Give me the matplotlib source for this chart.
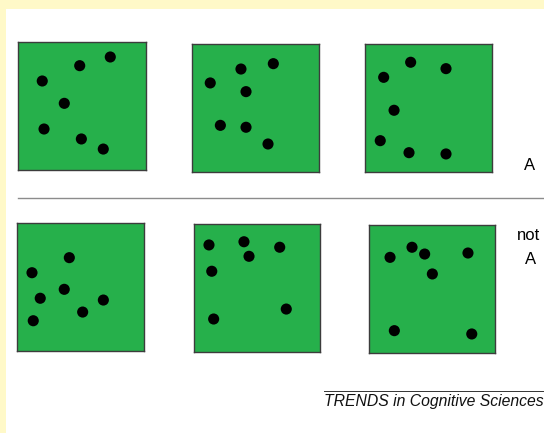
import matplotlib
matplotlib.use("Agg")
import matplotlib.pyplot as plt
from matplotlib.patches import Rectangle
from matplotlib.lines import Line2D

plt.rcParams['font.family'] = ['Liberation Sans', 'DejaVu Sans']

# dot positions inside each square, fraction of width (x) and of height from the top (y)
a1_x = [0.722, 0.482, 0.188, 0.361, 0.202, 0.495, 0.667]
a1_y = [0.115, 0.183, 0.303, 0.478, 0.679, 0.757, 0.836]
a2_x = [0.641, 0.385, 0.142, 0.425, 0.222, 0.425, 0.599]
a2_y = [0.154, 0.196, 0.305, 0.373, 0.637, 0.652, 0.783]
a3_x = [0.358, 0.637, 0.145, 0.227, 0.118, 0.345, 0.637]
a3_y = [0.143, 0.193, 0.261, 0.519, 0.757, 0.851, 0.861]

n1_x = [0.412, 0.118, 0.372, 0.183, 0.680, 0.517, 0.128]
n1_y = [0.269, 0.387, 0.517, 0.587, 0.601, 0.695, 0.763]
n2_x = [0.121, 0.398, 0.438, 0.681, 0.143, 0.733, 0.158]
n2_y = [0.164, 0.139, 0.253, 0.182, 0.370, 0.666, 0.744]
n3_x = [0.169, 0.343, 0.443, 0.786, 0.504, 0.203, 0.816]
n3_y = [0.251, 0.172, 0.225, 0.217, 0.381, 0.825, 0.851]

row_labels = ["A", "not", "A"]
credit = "TRENDS in Cognitive Sciences"

W, H = 544, 433
fig = plt.figure(figsize=(W / 100, H / 100), dpi=100, facecolor="#FFF9C8")


def px_box(x0, y0, x1, y1):
    # pixel box (top-left origin) -> figure fraction rect
    return [x0 / W, 1 - y1 / H, (x1 - x0) / W, (y1 - y0) / H]


fig.patches.append(Rectangle((6 / W, 0), 1 - 6 / W, 1 - 9 / H, transform=fig.transFigure,
                             facecolor="white", edgecolor="none", zorder=-10))

boxes = [
    (18.3, 42.3, 145.7, 170.0), (192.3, 44.0, 318.7, 171.7), (365.3, 44.0, 492.0, 171.7),
    (17.0, 223.3, 144.0, 351.0), (193.7, 224.0, 320.0, 351.7), (368.7, 225.3, 495.0, 353.0),
]
dots = [(a1_x, a1_y), (a2_x, a2_y), (a3_x, a3_y), (n1_x, n1_y), (n2_x, n2_y), (n3_x, n3_y)]

for box, (xs, ys) in zip(boxes, dots):
    ax = fig.add_axes(px_box(*box))
    ax.set_facecolor("#26B04B")
    ax.set_xlim(0, 1)
    ax.set_ylim(1, 0)
    ax.set_xticks([])
    ax.set_yticks([])
    for sp in ax.spines.values():
        sp.set_color("#3c3c3c")
        sp.set_linewidth(1.0)
    ax.scatter(xs, ys, s=64, color="black", edgecolors="none")

# separator line between rows
fig.add_artist(Line2D([18 / W, 1], [1 - 198.3 / H] * 2, transform=fig.transFigure,
                      color="#8c8c8c", lw=1.0))

fig.text(530 / W, 1 - 166 / H, row_labels[0], ha="center", va="center", fontsize=12)
fig.text(516.5 / W, 1 - 236 / H, row_labels[1], ha="left", va="center", fontsize=12)
fig.text(531 / W, 1 - 259 / H, row_labels[2], ha="center", va="center", fontsize=12)

fig.add_artist(Line2D([324 / W, 1], [1 - 390.7 / H] * 2, transform=fig.transFigure,
                      color="#333333", lw=0.7))
fig.text(324 / W, 1 - 406 / H, credit, ha="left", va="baseline", fontsize=11.3,
         style="italic", color="#111111")

fig.savefig("out.png", dpi=100, facecolor=fig.get_facecolor())
